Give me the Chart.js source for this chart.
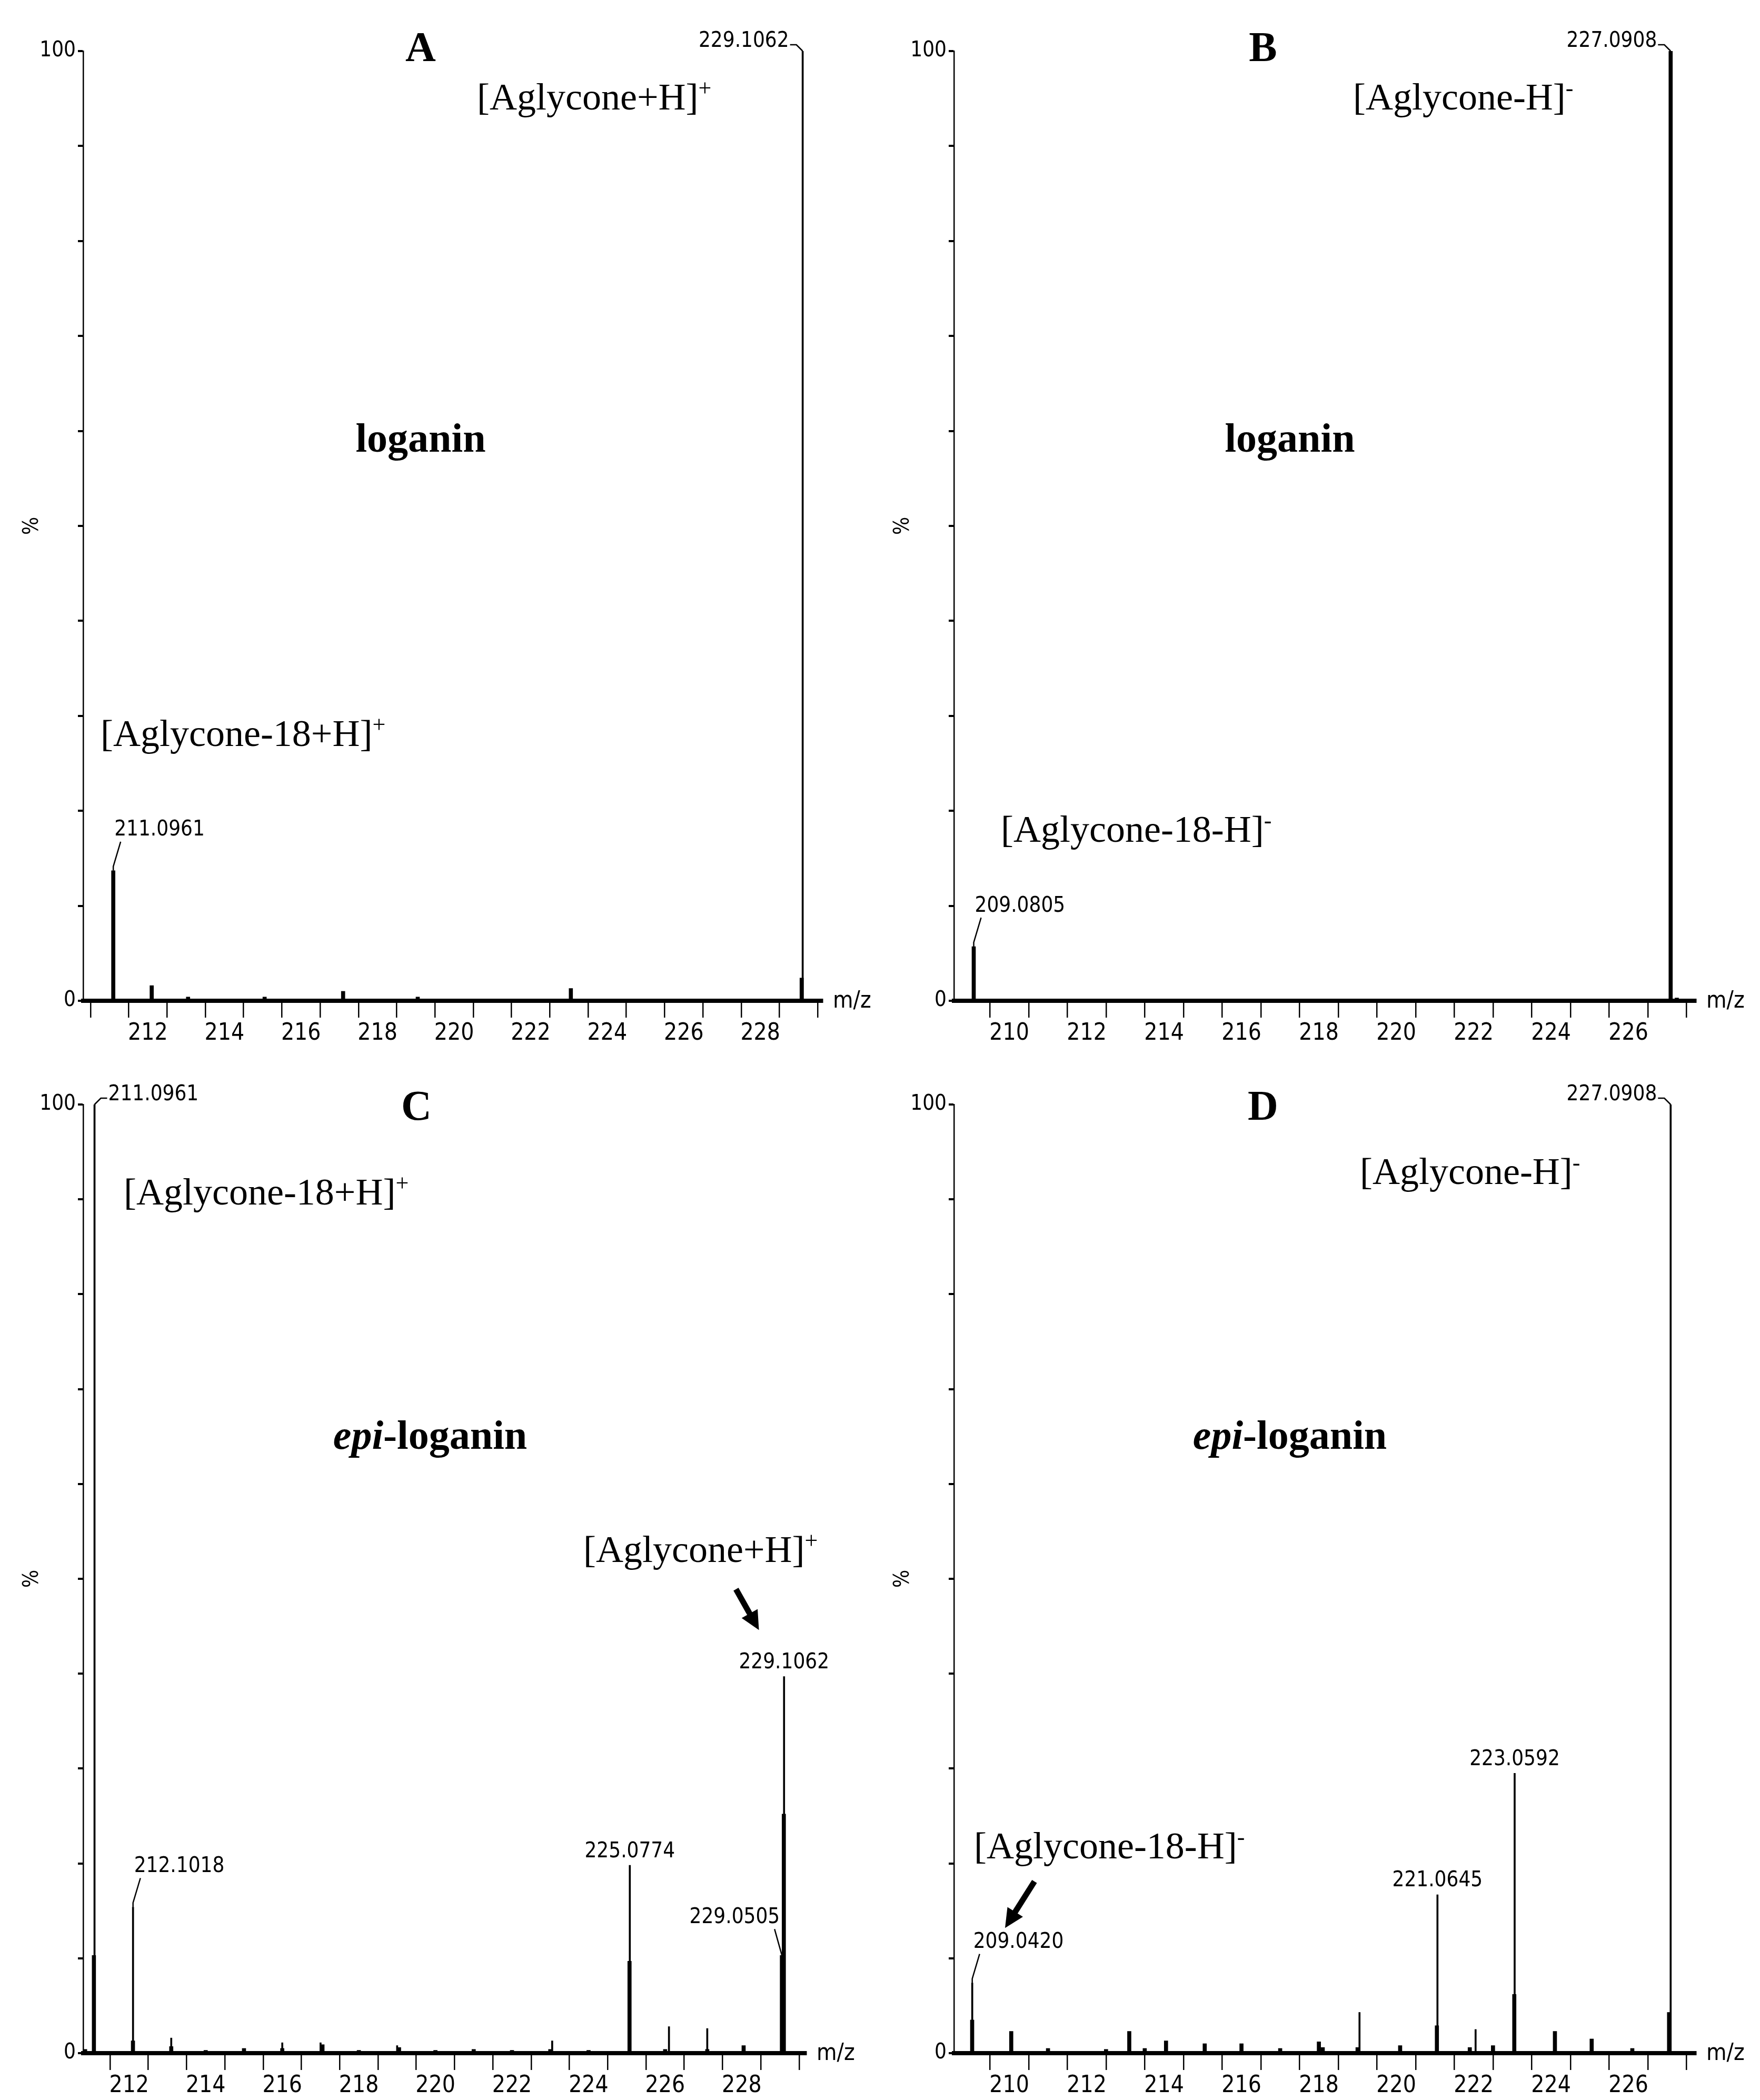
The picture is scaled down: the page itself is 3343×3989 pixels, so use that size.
<!DOCTYPE html>
<html>
<head>
<meta charset="utf-8">
<script src="https://cdn.jsdelivr.net/npm/chart.js@4.4.0/dist/chart.umd.min.js"></script>
<style>
  html, body { margin: 0; padding: 0; background: #fff; }
  #wrap { position: relative; width: 3343px; height: 3989px; overflow: hidden; }
  canvas { position: absolute; }
  .t { position: absolute; font-family: "Liberation Serif", "DejaVu Serif", serif; color: #000; white-space: nowrap; line-height: 1; }
  .letter { font-size: 80px; font-weight: bold; transform: translate(-50%, -50%); }
  .ion { font-size: 72px; transform: translateY(-50%); }
  .ion sup { font-size: 44px; vertical-align: 0.6em; line-height: 0; }
  .name { font-size: 78px; font-weight: bold; transform: translate(-50%, -50%); }
</style>
</head>
<body>
<div id="wrap">
  <canvas id="cA" style="left:0;top:0" width="1671" height="1995"></canvas>
  <canvas id="cB" style="left:1671px;top:0" width="1672" height="1995"></canvas>
  <canvas id="cC" style="left:0;top:1995px" width="1671" height="1994"></canvas>
  <canvas id="cD" style="left:1671px;top:1995px" width="1672" height="1994"></canvas>

  <div class="t letter" style="left:799px;top:89px">A</div>
  <div class="t ion" style="left:906px;top:184px">[Aglycone+H]<sup>+</sup></div>
  <div class="t name" style="left:799px;top:832px">loganin</div>
  <div class="t ion" style="left:191px;top:1393px">[Aglycone-18+H]<sup>+</sup></div>

  <div class="t letter" style="left:2399px;top:89px">B</div>
  <div class="t ion" style="left:2570px;top:184px">[Aglycone-H]<sup>-</sup></div>
  <div class="t name" style="left:2450px;top:832px">loganin</div>
  <div class="t ion" style="left:1901px;top:1575px">[Aglycone-18-H]<sup>-</sup></div>

  <div class="t letter" style="left:791px;top:2100px">C</div>
  <div class="t ion" style="left:235px;top:2264px">[Aglycone-18+H]<sup>+</sup></div>
  <div class="t name" style="left:817px;top:2726px"><i>epi</i>-loganin</div>
  <div class="t ion" style="left:1108px;top:2943px">[Aglycone+H]<sup>+</sup></div>

  <div class="t letter" style="left:2399px;top:2100px">D</div>
  <div class="t ion" style="left:2583px;top:2225px">[Aglycone-H]<sup>-</sup></div>
  <div class="t name" style="left:2450px;top:2726px"><i>epi</i>-loganin</div>
  <div class="t ion" style="left:1850px;top:3506px">[Aglycone-18-H]<sup>-</sup></div>
</div>
<script>
// ---- data (m/z, relative intensity %) ----
// centroid sticks (thin) and profile peaks (thick)
const aLineMz = [229.1062];
const aLineInt = [100];
const aPeakMz = [211.0961, 212.1, 213.05, 215.05, 217.1, 219.05, 223.05, 229.08];
const aPeakInt = [13.7, 1.6, 0.4, 0.4, 1.0, 0.4, 1.3, 2.4];
const aLabelMz = [229.1062, 211.0961];
const aLabelTxt = ['229.1062', '211.0961'];

const bLineMz = [];
const bLineInt = [];
const bPeakMz = [209.0805, 227.0908, 227.25];
const bPeakInt = [5.7, 100, 0.3];
const bLabelMz = [227.0908, 209.0805];
const bLabelTxt = ['227.0908', '209.0805'];

const cLineMz = [211.0961, 212.1018, 213.1, 216.0, 217.0, 219.0, 223.05, 225.0774, 226.1, 227.1, 229.1062];
const cLineInt = [100, 15.4, 1.6, 1.1, 1.1, 0.8, 1.3, 19.8, 2.8, 2.6, 39.7];
const cPeakMz = [210.85, 211.08, 212.1, 213.1, 214.0, 215.0, 216.0, 217.05, 218.0, 219.05, 220.0, 221.0, 222.0, 223.0, 224.0, 225.07, 226.0, 227.1, 228.05, 229.05, 229.1];
const cPeakInt = [0.4, 10.3, 1.3, 0.7, 0.3, 0.5, 0.5, 0.9, 0.3, 0.6, 0.3, 0.4, 0.3, 0.4, 0.3, 9.7, 0.4, 0.4, 0.8, 10.3, 25.2];
const cLabelMz = [211.0961, 212.1018, 225.0774, 229.0505, 229.1062];
const cLabelTxt = ['211.0961', '212.1018', '225.0774', '229.0505', '229.1062'];

const dLineMz = [209.042, 219.05, 221.0645, 222.05, 223.0592, 227.0908];
const dLineInt = [7.4, 4.3, 16.7, 2.5, 29.5, 100];
const dPeakMz = [209.04, 210.05, 211.0, 212.5, 213.1, 213.5, 214.05, 215.05, 216.0, 217.0, 218.0, 218.1, 219.0, 220.1, 221.05, 221.9, 222.5, 223.05, 224.1, 225.05, 226.1, 227.05];
const dPeakInt = [3.5, 2.3, 0.5, 0.4, 2.3, 0.5, 1.3, 1.0, 1.0, 0.5, 1.2, 0.6, 0.6, 0.8, 2.9, 0.6, 0.8, 6.2, 2.3, 1.5, 0.5, 4.3];
const dLabelMz = [227.0908, 223.0592, 221.0645, 209.042];
const dLabelTxt = ['227.0908', '223.0592', '221.0645', '209.0420'];

const yTicks = [0, 100];

// ---- layout / style per panel ----
const panels = [
  { id: 'cA', xMin: 210.31, xMax: 229.62, pad: { left: 38, top: 97, right: 109, bottom: 4 }, xh: 90,
    lines: [aLineMz, aLineInt], peaks: [aPeakMz, aPeakInt], labels: [aLabelMz, aLabelTxt],
    align: ['hookL', 'left'], arrows: [] },
  { id: 'cB', xMin: 208.57, xMax: 227.74, pad: { left: 21, top: 97, right: 122, bottom: 4 }, xh: 90,
    lines: [bLineMz, bLineInt], peaks: [bPeakMz, bPeakInt], labels: [bLabelMz, bLabelTxt],
    align: ['hookL', 'left'], arrows: [] },
  { id: 'cC', xMin: 210.8, xMax: 229.68, pad: { left: 38, top: 103, right: 140, bottom: 4 }, xh: 85,
    lines: [cLineMz, cLineInt], peaks: [cPeakMz, cPeakInt], labels: [cLabelMz, cLabelTxt],
    align: ['hookR', 'left', 'center', 'right', 'center'], arrows: [[227.85, 48.9, 228.45, 44.6]] },
  { id: 'cD', xMin: 208.57, xMax: 227.74, pad: { left: 21, top: 103, right: 122, bottom: 4 }, xh: 85,
    lines: [dLineMz, dLineInt], peaks: [dPeakMz, dPeakInt], labels: [dLabelMz, dLabelTxt],
    align: ['hookL', 'center', 'center', 'left'], arrows: [[210.65, 18.1, 209.89, 13.2]] }
];

const tickFont = '"Liberation Sans Narrow", "DejaVu Sans Condensed", sans-serif';

const decor = {
  id: 'decor',
  afterDatasetsDraw(chart, args, opts) {
    const p = opts.panel;
    const { ctx, scales: { x, y }, chartArea } = chart;
    ctx.save();
    ctx.fillStyle = '#000';
    ctx.strokeStyle = '#000';
    ctx.lineWidth = 2.5;
    ctx.font = '40px ' + tickFont;
    ctx.textBaseline = 'bottom';
    const [mzs, txts] = p.labels;
    mzs.forEach((mz, i) => {
      let top = 0;
      p.lines[0].forEach((m, j) => { if (Math.abs(m - mz) < 0.03) top = Math.max(top, p.lines[1][j]); });
      p.peaks[0].forEach((m, j) => { if (Math.abs(m - mz) < 0.03) top = Math.max(top, p.peaks[1][j]); });
      const px = x.getPixelForValue(mz);
      const py = y.getPixelForValue(top);
      const a = p.align[i];
      ctx.beginPath();
      if (a === 'left') {
        ctx.moveTo(px, py); ctx.lineTo(px, py - 8); ctx.lineTo(px + 14, py - 55); ctx.stroke();
        ctx.textAlign = 'left'; ctx.fillText(txts[i], px + 2, py - 57);
      } else if (a === 'right') {
        ctx.moveTo(px, py); ctx.lineTo(px - 14, py - 50); ctx.stroke();
        ctx.textAlign = 'right'; ctx.fillText(txts[i], px - 4, py - 52);
      } else if (a === 'hookL') {
        ctx.moveTo(px, py); ctx.lineTo(px - 12, py - 12); ctx.lineTo(px - 24, py - 12); ctx.stroke();
        ctx.textAlign = 'right'; ctx.textBaseline = 'middle'; ctx.fillText(txts[i], px - 26, py - 18);
        ctx.textBaseline = 'bottom';
      } else if (a === 'hookR') {
        ctx.moveTo(px, py); ctx.lineTo(px + 12, py - 12); ctx.lineTo(px + 24, py - 12); ctx.stroke();
        ctx.textAlign = 'left'; ctx.textBaseline = 'middle'; ctx.fillText(txts[i], px + 26, py - 18);
        ctx.textBaseline = 'bottom';
      } else {
        ctx.textAlign = 'center'; ctx.fillText(txts[i], px, py - 6);
      }
    });
    // arrows
    p.arrows.forEach(ar => {
      const x1 = x.getPixelForValue(ar[0]), y1 = y.getPixelForValue(ar[1]);
      const x2 = x.getPixelForValue(ar[2]), y2 = y.getPixelForValue(ar[3]);
      const ang = Math.atan2(y2 - y1, x2 - x1);
      const hl = 40;
      ctx.lineWidth = 11;
      ctx.beginPath();
      ctx.moveTo(x1, y1);
      ctx.lineTo(x2 - Math.cos(ang) * hl * 0.7, y2 - Math.sin(ang) * hl * 0.7);
      ctx.stroke();
      ctx.beginPath();
      ctx.moveTo(x2, y2);
      ctx.lineTo(x2 - hl * Math.cos(ang - 0.45), y2 - hl * Math.sin(ang - 0.45));
      ctx.lineTo(x2 - hl * Math.cos(ang + 0.45), y2 - hl * Math.sin(ang + 0.45));
      ctx.closePath();
      ctx.fill();
    });
    // m/z
    ctx.font = '44px ' + tickFont;
    ctx.textAlign = 'left';
    ctx.textBaseline = 'middle';
    ctx.fillText('m/z', chartArea.right + 20, chartArea.bottom + 2);
    ctx.restore();
  }
};

panels.forEach(p => {
  const toXY = (mz, v) => mz.map((m, i) => ({ x: m, y: v[i] }));
  new Chart(document.getElementById(p.id), {
    type: 'bar',
    data: {
      datasets: [
        { data: toXY(p.lines[0], p.lines[1]), backgroundColor: '#000', barThickness: 3, grouped: false },
        { data: toXY(p.peaks[0], p.peaks[1]), backgroundColor: '#000', barThickness: 7, grouped: false }
      ]
    },
    options: {
      responsive: false,
      animation: false,
      layout: { padding: p.pad },
      plugins: { legend: { display: false }, tooltip: { enabled: false }, decor: { panel: p } },
      scales: {
        x: {
          type: 'linear', min: p.xMin, max: p.xMax, offset: false,
          border: { color: '#000', width: 8 },
          grid: { drawOnChartArea: false, color: '#000', lineWidth: 2.5, tickLength: 32 },
          ticks: {
            stepSize: 1, includeBounds: false, autoSkip: false, maxRotation: 0, padding: 4,
            color: '#000', font: { family: tickFont, size: 44 },
            callback: v => (Math.round(v) % 2 === 0 ? String(Math.round(v)) : '')
          },
          afterFit: s => { s.height = p.xh; }
        },
        y: {
          min: 0, max: 100,
          border: { color: '#000', width: 2.5 },
          grid: { drawOnChartArea: false, color: '#000', lineWidth: 4, tickLength: 10 },
          ticks: {
            stepSize: 10, autoSkip: false, padding: 4, color: '#000',
            font: { family: tickFont, size: 40 },
            callback: v => (yTicks.includes(v) ? String(v) : '')
          },
          title: { display: true, text: '%', color: '#000', font: { family: tickFont, size: 40 }, padding: 0 },
          afterFit: s => { s.width = 120; }
        }
      }
    },
    plugins: [decor]
  });
});
</script>
</body>
</html>
